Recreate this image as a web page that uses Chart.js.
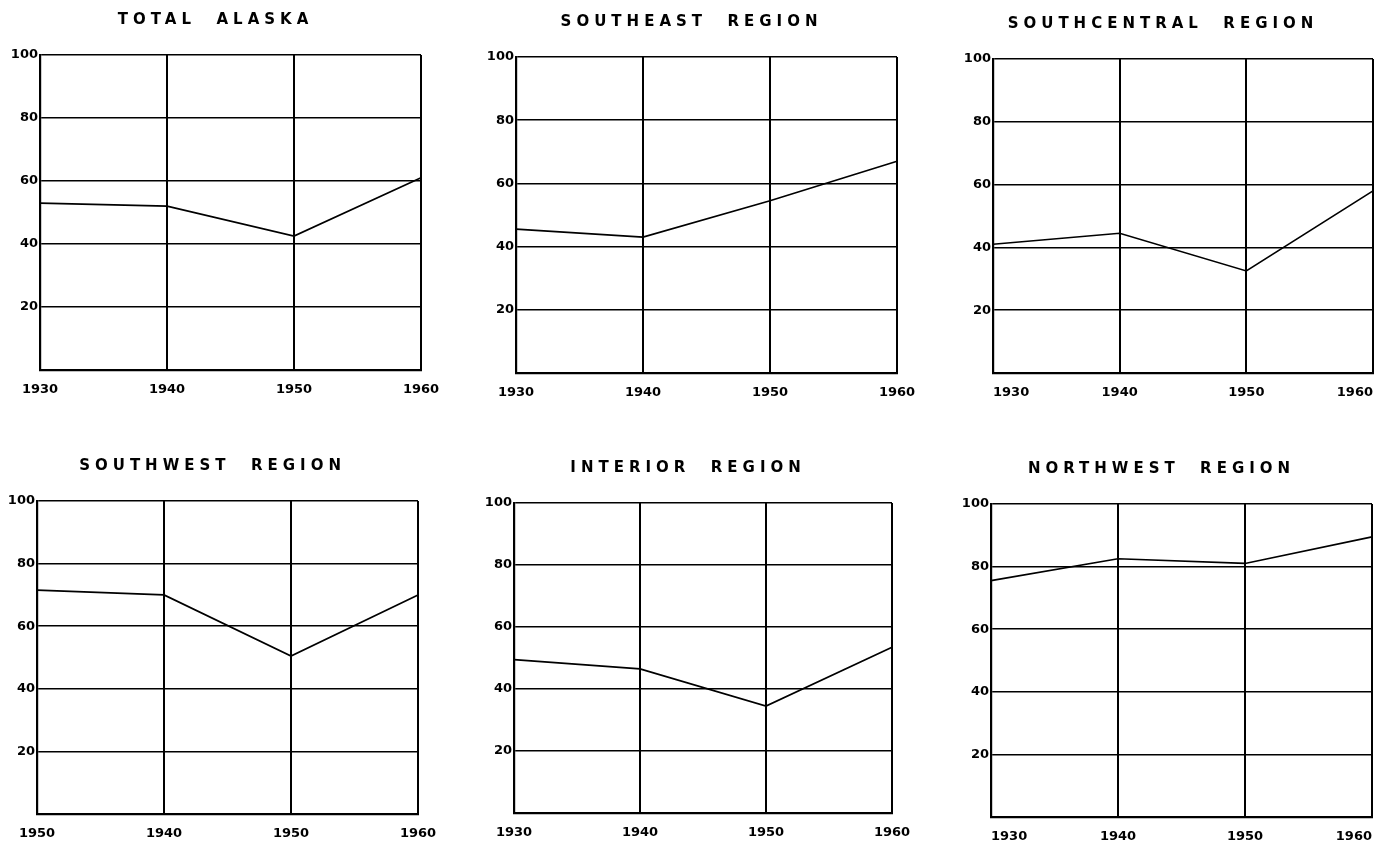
<!DOCTYPE html>
<html>
<head>
<meta charset="utf-8">
<script src="https://cdn.jsdelivr.net/npm/chart.js@4.4.1/dist/chart.umd.min.js"></script>
<style>
  html, body { margin: 0; padding: 0; background: #fff; overflow: hidden; }
  body { width: 1387px; height: 849px; position: relative; }
  .panel { position: absolute; }
</style>
</head>
<body>
<div id="wrap"></div>
<script>
// census years on the x axis
const years = ['1930', '1940', '1950', '1960'];
// the southwest panel is lettered "1950" at its first tick in the source
const yearsSouthwest = ['1950', '1940', '1950', '1960'];

// percent values
const totalAlaska  = [53, 52, 42.5, 61];
const southeast    = [45.5, 43, 54.5, 67];
const southcentral = [41, 44.5, 32.5, 58];
const southwest    = [71.5, 70, 50.5, 70];
const interior     = [49.5, 46.5, 34.5, 53.5];
const northwest    = [75.5, 82.5, 81, 89.5];

const titles = [
    'TOTAL  ALASKA',
    'SOUTHEAST  REGION',
    'SOUTHCENTRAL  REGION',
    'SOUTHWEST  REGION',
    'INTERIOR  REGION',
    'NORTHWEST  REGION'
];
const series = [totalAlaska, southeast, southcentral, southwest, interior, northwest];
const labelSets = [years, years, years, yearsSouthwest, years, years];

// plot-area boxes: left, top, right, bottom (page pixels)
const boxes = [
    [40, 55, 421, 370],
    [516, 57, 897, 373],
    [993, 59, 1373, 373],
    [37, 501, 418, 814],
    [514, 503, 892, 813],
    [991, 504, 1372, 817]
];

const Y_AXIS_W = 40;
const TITLE_H = 55;
const X_AXIS_H = 36;
const RIGHT_PAD = 20;

// wider letter spacing for the hand-lettered titles
const spacedTitle = {
    id: 'spacedTitle',
    afterInit(chart) {
        const tb = chart.titleBlock;
        if (!tb) return;
        const draw = tb.draw.bind(tb);
        tb.draw = () => {
            chart.ctx.save();
            chart.ctx.letterSpacing = '5px';
            draw();
            chart.ctx.restore();
        };
    }
};

const tickFont = { family: 'DejaVu Sans', size: 13, weight: 'bold' };
const wrap = document.getElementById('wrap');

boxes.forEach((b, i) => {
    const [L, T, R, B] = b;
    let left = L - Y_AXIS_W, top = T - TITLE_H;
    let w = (R - L) + Y_AXIS_W + RIGHT_PAD;
    let h = (B - T) + TITLE_H + X_AXIS_H + 4;
    const div = document.createElement('div');
    div.className = 'panel';
    const place = () => {
        div.style.left = left + 'px';
        div.style.top = top + 'px';
        div.style.width = w + 'px';
        div.style.height = h + 'px';
    };
    place();
    const canvas = document.createElement('canvas');
    div.appendChild(canvas);
    wrap.appendChild(div);

    // right-hand column sits at the page edge: keep the last year inside
    const rightCol = (i % 3) === 2;

    const chart = new Chart(canvas.getContext('2d'), {
        type: 'line',
        data: {
            labels: labelSets[i],
            datasets: [{
                data: series[i],
                borderColor: '#000',
                borderWidth: 1.7,
                pointRadius: 0,
                tension: 0,
                fill: false
            }]
        },
        options: {
            responsive: true,
            maintainAspectRatio: false,
            animation: false,
            layout: { padding: { left: 0, right: RIGHT_PAD, top: 0, bottom: 0 } },
            plugins: {
                legend: { display: false },
                tooltip: { enabled: false },
                title: {
                    display: true,
                    text: titles[i],
                    color: '#000',
                    font: { family: 'DejaVu Sans', size: 15, weight: 'bold' },
                    padding: { top: 11, bottom: 55 - 11 - 18 }
                }
            },
            scales: {
                x: {
                    type: 'category',
                    offset: false,
                    grid: { color: '#000', lineWidth: 2, drawTicks: false },
                    border: { color: '#000', width: 2.2 },
                    ticks: {
                        color: '#000',
                        padding: 12,
                        maxRotation: 0,
                        align: rightCol ? 'inner' : 'center',
                        font: tickFont
                    },
                    afterFit(scale) { scale.height = X_AXIS_H; }
                },
                y: {
                    min: 0,
                    max: 100,
                    grid: { color: '#000', lineWidth: 1.5, drawTicks: false },
                    border: { color: '#000', width: 2.2 },
                    ticks: {
                        stepSize: 20,
                        color: '#000',
                        padding: 2,
                        font: tickFont,
                        callback: v => (v === 0 ? '' : v)
                    },
                    afterFit(scale) { scale.width = Y_AXIS_W; }
                }
            }
        },
        plugins: [spacedTitle]
    });

    // nudge the canvas so its plot area lands on the reference box
    const a = chart.chartArea;
    left += L - (left + a.left);
    top += T - (top + a.top);
    w += (R - L) - (a.right - a.left);
    h += (B - T) - (a.bottom - a.top);
    place();
    chart.resize();
});
</script>
</body>
</html>
